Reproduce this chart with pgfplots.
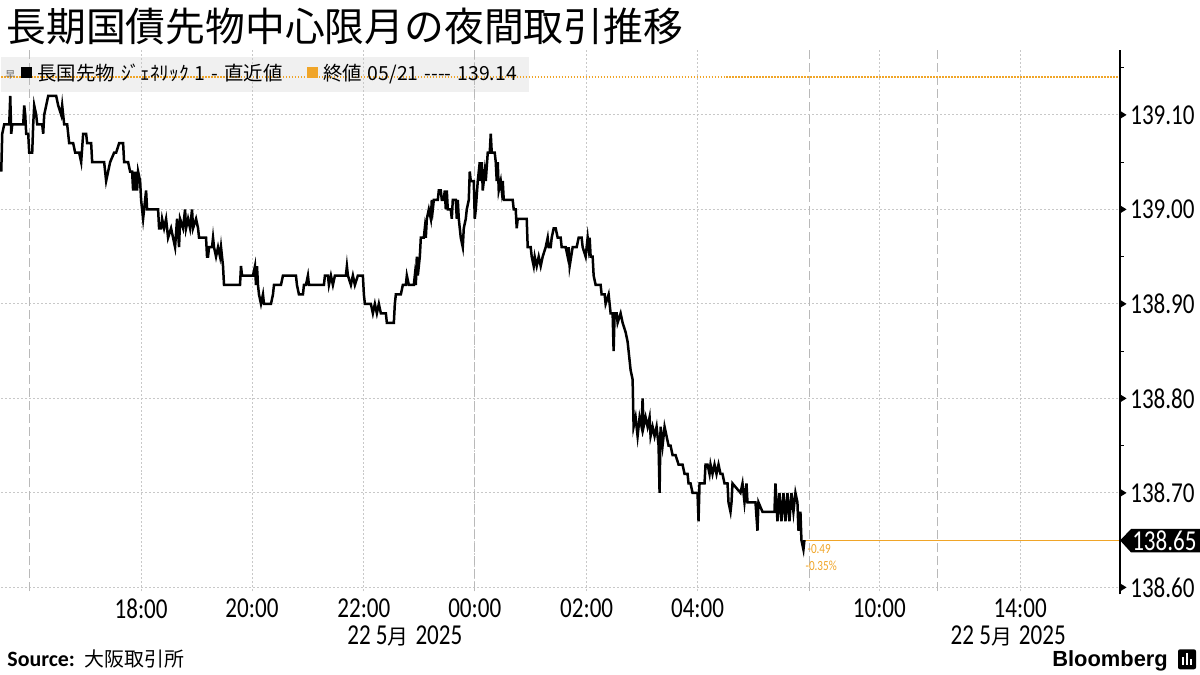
\documentclass[border=0pt]{standalone}
\usepackage{fontspec}
\usepackage{pgfplots}
\pgfplotsset{compat=1.18}
\newfontfamily\jp{Noto Sans CJK JP}
\newfontfamily\narrow{Carlito}[FakeStretch=0.8]
\newfontfamily\calfont{Carlito}
\newfontfamily\libfont{Liberation Sans}
\definecolor{bbor}{RGB}{240,165,40}
\definecolor{gridc}{RGB}{200,200,200}
\definecolor{dashc}{RGB}{185,185,185}
\definecolor{legbg}{RGB}{240,240,240}
\newcommand{\tickfont}{\narrow\fontsize{29}{29}\selectfont}
\begin{document}
\begin{tikzpicture}
\begin{scope}[x=1bp,y=1bp]
\path[use as bounding box] (0,0) rectangle (1200,675);
% legend background (beneath the grid)
\fill[legbg] (0,583) rectangle (528,618);
\end{scope}
\begin{axis}[
  at={(0bp,83bp)}, anchor=south west,
  scale only axis, width=1120bp, height=542bp,
  xmin=0, xmax=1120, ymin=138.595772, ymax=139.16871,
  axis line style={draw=none},
  xtick={140,251,363,474,586,697,879,1020},
  xticklabels={18:00,20:00,22:00,00:00,02:00,04:00,10:00,14:00},
  xtick style={draw=none}, ytick style={draw=none},
  xticklabel style={anchor=center, yshift=-17bp, inner sep=0pt, font=\tickfont},
  ytick={138.6,138.7,138.8,138.9,139.0,139.1},
  yticklabels={138.60,138.70,138.80,138.90,139.00,139.10},
  ytick pos=right, yticklabel pos=right,
  yticklabel style={anchor=west, inner sep=0pt, xshift=10bp, font=\tickfont},
  xmajorgrids, ymajorgrids,
  major grid style={gridc, dash pattern=on 2bp off 2bp, line width=0.9bp},
  clip=false,
]
% session separators
\addplot[dashc, line width=1.1bp, dash pattern=on 9bp off 4bp] coordinates {(28.5,138.595772) (28.5,139.16871)};
\addplot[dashc, line width=1.1bp, dash pattern=on 9bp off 4bp] coordinates {(474,138.595772) (474,139.16871)};
\addplot[dashc, line width=1.1bp, dash pattern=on 9bp off 4bp] coordinates {(809,138.595772) (809,139.16871)};
\addplot[dashc, line width=1.1bp, dash pattern=on 9bp off 4bp] coordinates {(937,138.595772) (937,139.16871)};
% previous close
\addplot[bbor, line width=1.5bp, dash pattern=on 1.5bp off 1.5bp] coordinates {(0,139.14) (1120,139.14)};
% last price line
\addplot[bbor, line width=1bp] coordinates {(803,138.65) (1120,138.65)};
% price series
\addplot[black, line width=2.5bp, line join=miter] coordinates {
(0,139.04) (1,139.08) (3,139.09) (8,139.09) (9,139.12) (10,139.08) (11,139.09) (22,139.09) (23,139.11) (24,139.10) (25,139.08) (27,139.08) (28,139.06) (31,139.06) (32,139.09) (33,139.11) (35,139.10) (36,139.09) (41,139.09) (42,139.08) (43,139.10) (45,139.11) (47,139.12) (55,139.12) (57,139.11) (60,139.10) (61,139.11) (62,139.10) (63,139.09) (66,139.09) (68,139.07) (72,139.07) (74,139.06) (78,139.06) (80,139.05) (82,139.08) (85,139.08) (86,139.07) (90,139.07) (91,139.05) (95,139.05) (103,139.05) (105,139.03) (107,139.04) (109,139.05) (113,139.06) (115,139.06) (118,139.07) (122,139.07) (123,139.05) (127,139.05) (129,139.04) (131,139.04) (132,139.02) (133,139.04) (134,139.02) (135,139.04) (136,139.02)
(137,139.04) (139,139.03) (140,139.01) (142,138.99) (144,139.01) (145,139.02) (146,139.00) (157,139.00) (158,138.98) (160,138.98) (161,138.99) (163,138.98) (165,138.99) (167,138.97) (170,138.98) (172,138.97) (174,138.96) (176,138.99) (178,138.96) (179,138.99) (182,138.98) (184,139.00) (185,138.98) (187,138.99) (189,138.98) (191,139.00) (192,138.98) (195,138.99) (197,138.98) (198,138.97) (205,138.97) (206,138.95) (207,138.95) (208,138.96) (211,138.96) (212,138.97) (213,138.96) (215,138.95) (217,138.96) (219,138.95) (220,138.96) (221,138.95) (222,138.94) (223,138.92) (239,138.92) (240,138.94) (241,138.93) (252,138.93) (254,138.94) (255,138.92) (256,138.94) (257,138.92) (258,138.91) (260,138.90) (262,138.91) (263,138.90) (270,138.90) (272,138.91)
(273,138.92) (280,138.92) (282,138.93) (295,138.93) (296,138.92) (298,138.91) (302,138.91) (303,138.92) (305,138.92) (307,138.93) (308,138.92) (323,138.92) (324,138.93) (327,138.93) (328,138.92) (330,138.93) (332,138.92) (334,138.93) (345,138.93) (346,138.94) (347,138.93) (350,138.92) (352,138.93) (354,138.92) (357,138.93) (362,138.93) (363,138.91) (364,138.90) (370,138.90) (372,138.89) (374,138.90) (376,138.89) (378,138.90) (380,138.89) (385,138.89) (386,138.88) (393,138.88) (394,138.90) (395,138.91) (400,138.91) (402,138.92) (405,138.92)
(406,138.93) (408,138.92) (413,138.92) (414,138.93) (415,138.92) (416,138.95) (417,138.93) (419,138.95) (420,138.97) (423,138.97) (424,138.98) (425,138.97) (426,138.99) (428,139.00) (430,138.99) (431,139.01) (432,139.00) (433,139.01) (437,139.01) (438,139.02) (440,139.02) (441,139.01) (443,139.01) (444,139.02) (445,139.00) (446,139.02) (447,139.00) (450,139.00) (451,138.99) (452,139.01) (455,139.01) (456,138.99) (457,139.01) (458,138.99) (460,138.97) (462,138.96) (463,138.98) (465,138.99) (466,139.00) (468,139.01) (469,139.04) (470,139.03) (473,139.03) (474,138.99) (475,139.00) (477,139.03) (479,139.05) (480,139.03) (481,139.05) (482,139.02) (484,139.04) (485,139.03) (487,139.06) (489,139.06) (490,139.08) (491,139.06) (494,139.06) (495,139.05) (496,139.03) (497,139.05) (498,139.02) (500,139.03) (501,139.02) (502,139.03) (503,139.01) (512,139.01) (513,139.00) (515,139.00) (516,138.98) (517,138.99) (526,138.99) (527,138.96) (530,138.96) (531,138.95) (533,138.94) (534,138.95)
(536,138.94) (538,138.95) (540,138.94) (542,138.95) (545,138.96) (547,138.97) (548,138.96) (550,138.96) (551,138.97) (553,138.98) (555,138.98) (557,138.97) (560,138.97) (561,138.96) (565,138.96) (567,138.95) (568,138.96) (569,138.94) (572,138.96) (576,138.96) (578,138.97) (581,138.97) (582,138.96) (585,138.95) (587,138.97) (588,138.96) (589,138.97) (590,138.95) (592,138.95) (593,138.93) (595,138.92) (600,138.92) (601,138.91) (604,138.91) (605,138.90) (608,138.91) (610,138.89) (612,138.89) (613,138.85) (614,138.89) (616,138.89) (617,138.88) (620,138.89) (622,138.88) (625,138.87) (627,138.86) (628,138.85) (630,138.83) (632,138.82) (633,138.77) (635,138.78) (637,138.76) (639,138.78) (641,138.77) (642,138.80) (643,138.77) (645,138.78) (647,138.77) (649,138.78) (650,138.76) (652,138.77) (654,138.76) (656,138.77) (658,138.75) (659,138.70) (660,138.77) (662,138.75) (664,138.77) (666,138.76) (668,138.75) (670,138.75) (672,138.74)
(675,138.74) (678,138.73) (682,138.73) (684,138.72) (687,138.72) (688,138.71) (690,138.71) (692,138.70) (697,138.70) (698,138.67) (699,138.71) (704,138.71) (705,138.73) (707,138.73) (709,138.72) (710,138.73) (712,138.72) (714,138.73) (716,138.72) (718,138.73) (720,138.72) (722,138.72) (724,138.71) (727,138.71) (728,138.69) (730,138.68) (731,138.69) (732,138.71) (740,138.70) (742,138.71) (744,138.69) (746,138.71) (747,138.69) (755,138.69) (757,138.66) (758,138.69) (762,138.68) (774,138.68) (775,138.71) (777,138.67) (779,138.70) (781,138.67) (783,138.70) (785,138.67) (787,138.70) (789,138.67) (791,138.70) (793,138.68) (795,138.70) (797,138.69) (798,138.66) (800,138.68) (801,138.65) (803,138.64) (804,138.65)
};
\end{axis}
\begin{scope}[x=1bp,y=1bp]
% right spine and ticks
\draw[black, line width=1.3bp] (1120,80) -- (1120,625);
\foreach \yy in {560,465.4,370.8,276.2,181.6,87} {
  \fill[black] (1120,\yy-4) -- (1126.5,\yy) -- (1120,\yy+4) -- cycle;
}
\foreach \yy in {607.3,512.7,418.1,323.5,228.9} {
  \draw[black, line width=1bp] (1120,\yy) -- (1124,\yy);
}
% last price marker
\fill[black] (1120,134) -- (1131,145.5) -- (1200,145.5) -- (1200,122) -- (1131,122) -- cycle;
\node[anchor=west, inner sep=0pt, text=white] at (1132,134) {\tickfont 138.65};
\node[anchor=west, inner sep=0pt, text=bbor] at (807,125) {\narrow\fontsize{14}{14}\selectfont -0.49};
\node[anchor=west, inner sep=0pt, text=bbor] at (805,109) {\narrow\fontsize{14}{14}\selectfont -0.35\%};
% title
\node[anchor=base west, inner sep=0pt] at (5,633) {\jp\fontsize{40}{40}\selectfont 長期国債先物中心限月の夜間取引推移};
% legend
\node[anchor=base west, inner sep=0pt, text=black!60] at (4,596) {\jp\fontsize{10}{10}\selectfont 早};
\fill[black] (20,597) rectangle (31,608);
\node[anchor=base west, inner sep=0pt] at (36,594) {\jp\fontsize{19.5}{19.5}\selectfont 長国先物\hspace{6bp}ｼﾞｪﾈﾘｯｸ\hspace{6bp}1\hspace{6bp}-\hspace{6bp}直近値};
\fill[bbor] (306,597) rectangle (317,608);
\node[anchor=base west, inner sep=0pt] at (322,594) {\jp\fontsize{19.5}{19.5}\selectfont 終値\hspace{6bp}05/21\hspace{6bp}-{}-{}-{}-\hspace{6bp}139.14};
% date labels
\node[anchor=base, inner sep=0pt] at (404,30) {\tickfont 22 5{\jp\fontsize{21}{21}\selectfont 月}\hspace{7bp}2025};
\node[anchor=base, inner sep=0pt] at (1008,30) {\tickfont 22 5{\jp\fontsize{21}{21}\selectfont 月}\hspace{7bp}2025};
% source and logo
\node[anchor=base west, inner sep=0pt] at (6,8) {\calfont\bfseries\fontsize{22}{22}\selectfont Source:\hspace{10bp}{\jp\mdseries\fontsize{20}{20}\selectfont 大阪取引所}};
\node[anchor=base east, inner sep=0pt] at (1168,8) {\libfont\bfseries\fontsize{22}{22}\selectfont Bloomberg};
\fill[black, rounded corners=2bp] (1178,5) rectangle (1196,25);
\fill[white] (1182,9) rectangle (1184,17);
\fill[white] (1186,9) rectangle (1188,21);
\fill[white] (1190,9) rectangle (1192,15);
\end{scope}
\end{tikzpicture}
\end{document}
